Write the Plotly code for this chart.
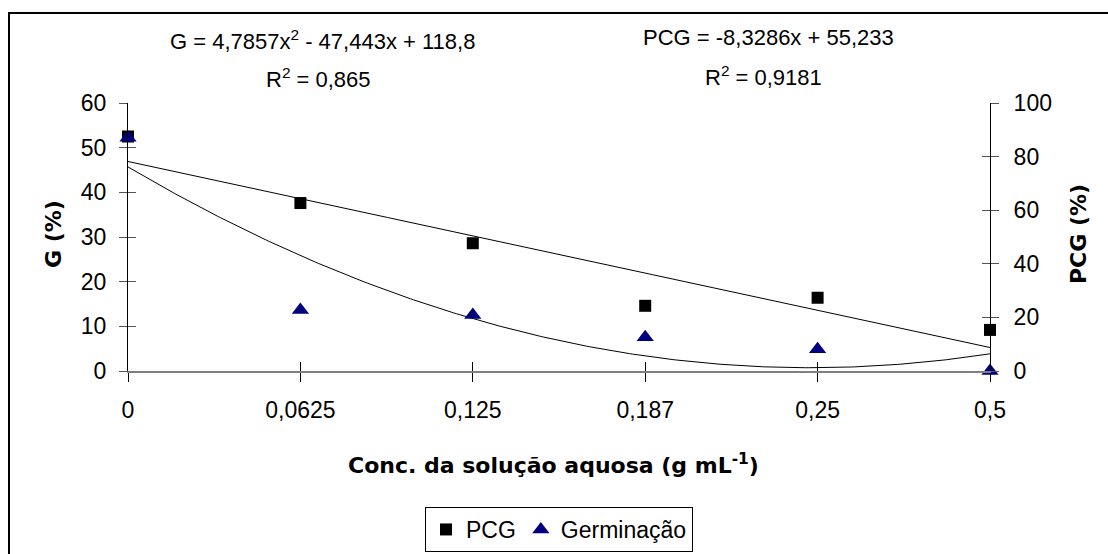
import numpy as np
import plotly.graph_objects as go

# ---- data ----
categories = ["0", "0,0625", "0,125", "0,187", "0,25", "0,5"]
pcg_values = [52.5, 37.6, 28.6, 14.6, 16.4, 9.2]      # plotted against the left axis
germ_values = [87.0, 22.8, 20.9, 12.6, 8.1, 0.0]      # plotted against the right axis
left_ticks = [0, 10, 20, 30, 40, 50, 60]
right_ticks = [0, 20, 40, 60, 80, 100]

# trendline coefficients (as printed on the chart)
g_coef = (4.7857, -47.443, 118.8)     # G = a x^2 + b x + c
pcg_coef = (-8.3286, 55.233)          # PCG = m x + q

pos = list(range(len(categories)))
t = np.linspace(1, len(categories), 300)
g_trend = g_coef[0] * t**2 + g_coef[1] * t + g_coef[2]
pcg_trend = pcg_coef[0] * t + pcg_coef[1]

FONT = "Liberation Sans, Arial, sans-serif"
BOLD = "DejaVu Sans, sans-serif"

fig = go.Figure()

fig.add_trace(go.Scatter(x=t - 1, y=pcg_trend, mode="lines", yaxis="y",
                         line=dict(color="black", width=1), showlegend=False,
                         hoverinfo="skip"))
fig.add_trace(go.Scatter(x=t - 1, y=g_trend, mode="lines", yaxis="y2",
                         line=dict(color="black", width=1), showlegend=False,
                         hoverinfo="skip"))
fig.add_trace(go.Scatter(x=pos, y=pcg_values, mode="markers", name="PCG", yaxis="y",
                         marker=dict(symbol="square", size=12, color="black"),
                         cliponaxis=False))
fig.add_trace(go.Scatter(x=pos, y=germ_values, mode="markers", name="Germinação", yaxis="y2",
                         marker=dict(symbol="triangle-up", size=15, color="#000080"),
                         cliponaxis=False))

tickfont = dict(family=FONT, size=23, color="black")

fig.update_layout(
    width=1108, height=554,
    margin=dict(l=128, r=118, t=103, b=183, autoexpand=False),
    paper_bgcolor="white", plot_bgcolor="white",
    font=dict(family=FONT, color="black"),
    xaxis=dict(range=[0, 5], tickmode="array", tickvals=pos, ticktext=categories,
               showgrid=False, zeroline=False, showline=True, linecolor="#808080",
               linewidth=2, ticks="outside", ticklen=9, tickcolor="black", tickwidth=1,
               tickfont=tickfont, ticklabelstandoff=8, automargin=False),
    xaxis2=dict(range=[0, 5], overlaying="x", tickmode="array", tickvals=pos,
                showticklabels=False, showgrid=False, zeroline=False, showline=False,
                ticks="inside", ticklen=9, tickcolor="black", tickwidth=1, anchor="y"),
    yaxis=dict(range=[0, 60], tickmode="array", tickvals=left_ticks, showgrid=False,
               zeroline=False, showline=True, linecolor="black", linewidth=1,
               ticks="outside", ticklen=8, tickcolor="#555", tickwidth=1,
               tickfont=tickfont, ticklabelstandoff=8, automargin=False),
    yaxis2=dict(range=[0, 100], overlaying="y", side="right", tickmode="array",
                tickvals=right_ticks, showgrid=False, zeroline=False, showline=True,
                linecolor="black", linewidth=1, ticks="outside", ticklen=8,
                tickcolor="#555", tickwidth=1, tickfont=tickfont, ticklabelstandoff=10,
                automargin=False),
    yaxis3=dict(range=[0, 60], overlaying="y", side="left", tickmode="array",
                tickvals=left_ticks, showticklabels=False, showgrid=False,
                zeroline=False, showline=False, ticks="inside", ticklen=8,
                tickcolor="#555", tickwidth=1),
    yaxis4=dict(range=[0, 100], overlaying="y", side="right", tickmode="array",
                tickvals=right_ticks, showticklabels=False, showgrid=False,
                zeroline=False, showline=False, ticks="inside", ticklen=8,
                tickcolor="#555", tickwidth=1),
    legend=dict(orientation="h", x=0.5, xanchor="center",
                yref="container", y=(554 - 507) / 554, yanchor="top",
                bordercolor="black", borderwidth=1, bgcolor="white",
                font=dict(family=FONT, size=23, color="black"), itemwidth=30,
                itemclick=False, itemdoubleclick=False),
    showlegend=True,
)

# dummy traces so the overlay axes are drawn
fig.add_trace(go.Scatter(x=[None], y=[None], xaxis="x2", yaxis="y3", showlegend=False))
fig.add_trace(go.Scatter(x=[None], y=[None], yaxis="y4", showlegend=False))


def px_x(page_x):
    return (page_x - 128) / 862


def px_y(page_y):
    return (371 - page_y) / 268


eqfont = dict(family=FONT, size=22, color="black")
ann = [
    dict(text="G = 4,7857x<sup>2</sup> - 47,443x + 118,8", x=px_x(322), y=px_y(40), font=eqfont),
    dict(text="R<sup>2</sup> = 0,865", x=px_x(318), y=px_y(78), font=eqfont),
    dict(text="PCG = -8,3286x + 55,233", x=px_x(768), y=px_y(38), font=eqfont),
    dict(text="R<sup>2</sup> = 0,9181", x=px_x(763), y=px_y(76), font=eqfont),
    dict(text="<b>Conc. da solução aquosa (g mL<sup>-1</sup>)</b>", x=px_x(553), y=px_y(464),
         font=dict(family=BOLD, size=22, color="black")),
    dict(text="<b>G (%)</b>", x=px_x(53), y=px_y(234), textangle=-90,
         font=dict(family=BOLD, size=22, color="black")),
    dict(text="<b>PCG (%)</b>", x=px_x(1078), y=px_y(234), textangle=-90,
         font=dict(family=BOLD, size=22, color="black")),
]
for a in ann:
    a.update(xref="paper", yref="paper", showarrow=False, xanchor="center", yanchor="middle")
fig.update_layout(annotations=ann)

# outer chart-area border (extends past the right/bottom edge as in the reference)
fig.add_shape(type="rect", xref="paper", yref="paper",
              x0=px_x(9), x1=px_x(1125), y0=px_y(575), y1=px_y(13),
              line=dict(color="black", width=2), layer="below")

fig.write_html("out.html", config={"displayModeBar": False},
               post_script="document.body.style.margin='0';"
                           "document.documentElement.style.overflow='hidden';")
